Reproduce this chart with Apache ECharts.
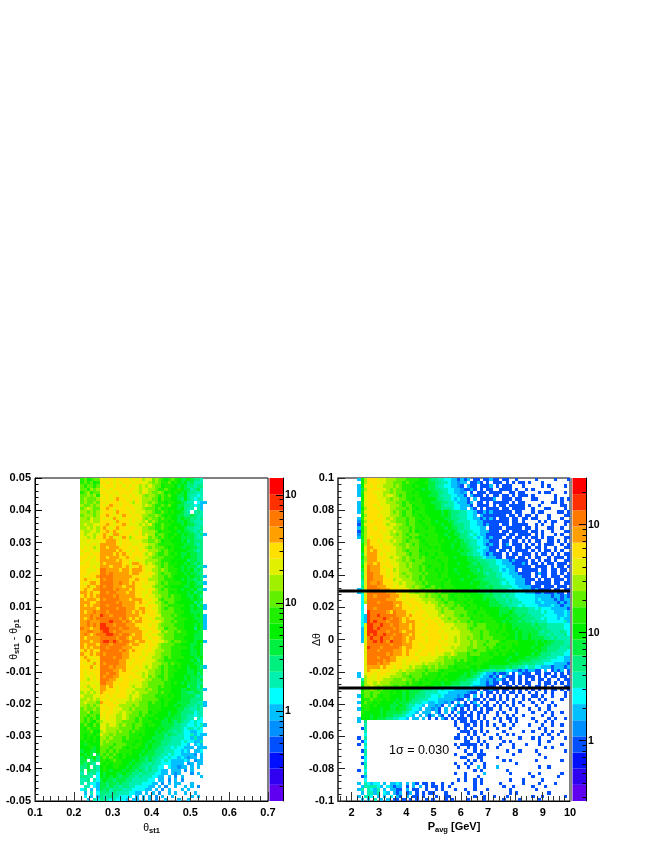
<!DOCTYPE html>
<html><head><meta charset="utf-8">
<style>html,body{margin:0;padding:0;background:#fff}#c{width:654px;height:846px}</style>
<script src="https://cdn.jsdelivr.net/npm/echarts@6/dist/echarts.min.js"></script>
</head><body><div id="c"></div>
<script>
// colour levels, bottom to top of the palette bar
const palette=['#6000f0','#3000f0','#0010ff','#0050ff','#0090ff','#00c0ff','#00ffff','#00f0b0','#00f080','#00f040','#00f000','#20f000','#60f000','#a0f000','#e0f000','#ffe000','#ffa000','#ff7800','#ff3000','#ff0000'];
const levelCodes='0123456789abcdefghij';
// left panel: one string per y bin from top; one char per x bin starting at bin 14 of 72
const leftRows=[
"bcabcc feffefff fefefdee cdcbabcb a99a9887 .",
"bcbcab ffefefef ffeffeed cdcbbcab a9a89777 .",
"cbccbc efffeffe fefedede dccabbba 9a988788 .",
"ccbdcd fefeffff effedeed dcbbcbaa ba997897 .",
"bcdbcc ffefeeff ffeedfed ccdcabab a9a88777 .",
"ccdcdb effefefe fefeedcd dcbcbcaa 99a87767 .",
"cdcccd fefefgff efefeddd ccacbbaa 98a87677 .",
"cdccdc ffefffef fedfeddc dcbbabba a9877.65 5",
"dccdcd fefgffef ffeeeded cbbcbcaa 99887675 .",
"cdedcc ffgfefff effeedcc cbcabaaa 9a877.75 .",
"ddcdcd efffegff fefeeedd cbbcbaba a987.787 .",
"cdddcd ffgfefeg ffefeddc cdcbabaa 99889877 .",
"ddcedd fefegfef fefefdcd ccbcbbaa 9a998878 .",
"dddedd ffffegff fefeedec dcbbbaba 99a98777 .",
"deddee ffgfeffg feeedede cbbcbbaa a9a99877 .",
"ddeded fgfefgff effeeddc cbbcbaab aa988778 .",
"eddeed ffgfgfef ffeefddd dcabbbaa 9a998787 .",
"edeede fgfeggff fefefded dbccbaab a9a99878 5",
"eededf fgfgefeg fdeffeec dcbcbaba a9999877 .",
"eefeee ffgggfef feeeeddc cdcabbaa a9a89888 .",
"eeeefe gggggfef ffeefeed dcbbbbba aa999878 .",
"efefde ggfgggff feffeedc dcccbaba a99a9988 .",
"feefee gggggfgf efefefed ddcbcbba aaa99878 .",
"effeff ggggfgfg fefffede dcbbcbab a99a9988 .",
"ffefef ggfgggff gffefeed ccccbbba a9aa9988 .",
"fefeef gggggfgf fefeeedd ddcbbbaa aaa89988 .",
"effeee gfgggggf feggfede dccbcbab aa9a9898 .",
"fffefe gggfgggf geffgfee edcbcbba a9a99978 5",
"ffeeef hhggggfg gfgggfee ddcdcbbb a9a9a898 .",
"ffefff hhghgggg gfggffef edcbccbb aa9a9988 .",
"fefffg hhhhgggg ggfffefe ddccbcba aaa9a998 5",
"fgffef hghhgggg gffgfffd ddccbbba a9a99898 .",
"fefggf hhhhgghg gfgffefe edcbcbbb baa9a988 5",
"ffgefg hghhgggf gggffeee dcccbbaa aa99a999 .",
"fgffgg hhhhghgg gfgfffef edcbcbbb a9aa9a88 5",
"ggfgff hhghhggg fggffeef ddcccbab aaa9a899 .",
"fgfgfg hhhhghgg gggffefe eddccbcb baa99a98 .",
"gfgggf hghhhhgg gfgggfef eecbcccb baaa9a99 .",
"gggffg hhhhhghg gggfgffe eddcbccb aaaaa898 .",
"gfgfgg hhghhhhg gggfffef fedccbbb bbaa9a89 5",
"gggggf hhhhhghh gggfggff eedcbccb baaa9a99 5",
"gfgghg hhghhhhh ggfgfgff fedccccb bbaa9999 .",
"ggghgg ihhghhhh ggggffef feecccbc baaaa9a9 5",
"gfghgh hhhhhhgh gfgfgffe fdddcccb bbbaa999 5",
"gghggg hhhihhhg hgfggfff efedccbc bbaaaa99 5",
"gghghg iihhghhh gggffffe fedccccb bbaaa9a9 5",
"hggfgg iiihhhgh hgggfeff feddbccc bbaaa8a9 5",
"gghhgg hiihghhg gggggffe ffecdccb cbbaaa99 .",
"ghgfgh hhiihhgh hgfggfef eeddcccb bbbaa999 .",
"gfgggg hhhhhghh gfgggffe ffedcccb bbaaa999 .",
"gggfgg hiihihgh hggfggff efeedcbc cbbaa9aa 5",
"gfgggf hhhghhhh gfggffef fedccccb baaa99a9 .",
"gfgfgg hhghhhhg ggffffef eedcccbb bbba9aa9 .",
"fgfgff hhhhhhgh gfgffeff edddccbb baaa99a9 .",
"gffgfg hghhhhhg gffffefe eddcccbb baaa99a9 .",
"fgfeff hhhhghhg gfffefee dddcbcbb bbaaa99a .",
"ffgfef hhhhhhgg ffefffee edccbbbb aaaa9a89 .",
"fefegf hghhhhgg fefffeee dddccbcb baaaa999 .",
"fffgef hhhghggg fffefede ddcbcbba baa9aa98 5",
"feffff hhhhggfg ffefeeed dccbcbbb aaa99a99 .",
"fefeff hhghhgff fffeeded dccbcbba aaa99a89 .",
"feefef hghhggff feffedec dcbbcbba aa9a9998 .",
"fedfef hhhggfef ffeefedd cccbcbaa aa9a9989 .",
"eefeee hhggffff feeeeddc ccccbbab a9a99988 .",
"efdefe ggfgfeff fedeeddc ccbcbbaa aaa89979 .",
"eeedee ggfffeff eeedddcd ccbbbbaa a99a9988 5",
"dedede gffffeff eededddc ccbcbbaa a9988998 .",
"edddee ffefefff edeedccc cbbbbaba a9999878 .",
"ddeded fefefeee ededdccc ccbabbaa a9998888 .",
"dedddc gfffefee ddddcccb cbbabaaa 99998877 5",
"ddcdcd fefffedd ddcdcccb bbbabaa9 a9988787 5",
"cdccdc ffefeeed dcdccccb bbbaaaaa 99887787 .",
"ccdbcc feffeede ddccbcca bbaaa9aa 98888677 .",
"ccbccb fefeedde dcccbcbb baaaa9a9 98877677 .",
"cbcbcb eefeedde dccbcbba abaa9a99 98877.76 .",
"cbcbac deeeeddc cccbcbbb aaa99a98 98776766 .",
"bcbacb eedeedcd ccbccbab baa99998 87766767 5",
"bacbbb eeddddcc ccbcbbaa aa9a9988 87677676 .",
"bbbcaa dedddcdc cbcbbbaa a9a99887 87665566 .",
"babbab eddcdccc cbbbabaa a9998988 77667565 5",
"bababa ddcdcccb cbbbbaaa 99998877 77665755 .",
"abaaba dcdccccb bbbabaa9 a9988877 76766557 .",
"a9baaa dcccbccc bbabba9a 99988777 7665.565 .",
"aaab9a cccbcccb abbbaa9a 99887767 66555.55 5",
"9aa99a ccbcbcbb bbaaa9a9 98887776 6565.556 .",
"a9a9.9 cbcbcbab abaa9a99 98877676 655554.5 .",
"9a99a8 bcbcbbab aaaa9989 88776766 565455.5 .",
"99.898 bbabcbba aa9a9989 87767655 5565.455 .",
"98987. bababbba a9a99887 87766655 55.45.55 .",
"889.87 abaabbaa 9a998878 7766.655 455.5.5. .",
"8.9887 aba9aaa9 a9989878 77655.55 5.4.5... .",
"7.8786 a9aaa99a 99887887 76655.54 5...4.5. .",
"8877.6 a9a9a989 98878777 6655.5.4 .5.....5 .",
"778.76 9a998999 88777776 6.55.4.5 .4...... .",
"7.7665 99899898 87777666 55.4.5.5 5...5... .",
".77.65 99898878 87766665 5.5.4..5 ..5.5.4. .",
"67.5.5 98978887 77666655 .5.4.5.. .5.5.... .",
".5.7.6 88878777 76655.5. 5.4..5.5 ..5..5.. .",
".6.5.5 87787766 66.5.5.5 .4.5..5. ....5.5. .",
"..5.76 87767666 5.55.5.5 .4..5... 5..5.... ."
];
// right panel: one string per y bin from top; one char per x bin starting at bin 6 of 72
const rightRows=[
"5ad fffeeedddc ccbbbbaaa9 8877665535 35.33.3353 3.33..3... ..3.....3. ..3",
".ad ffffeeddcc cbcbbaaab9 9887765545 5.3353.3.3 33.3.3.33. 3...3..... ...",
"5ae fefeedddcd cbbbabaaa9 9877665543 .533.3335. 3.333...3. ....3.3... .3.",
"59d ffffeedcdc cbbbbaa9a9 9887766554 3353.3.33. .3333.3..3 .3.....3.. ...",
"5be ffeeeddcdc ccbbabaaaa 9988766554 5.3.333.33 33..33.33. ...3.33... .3.",
"5ae fffeedeedc bcbbbbaaa9 9987776655 3.5333.3.3 3.33.3.333 .3......3. ...",
".ae fffeeedcdd ccbbabbaaa a988776565 53.5.33335 ..333.33.. .33.....3. 3.3",
"5be ffffeedddc cbcbbbbaaa 9998877655 535.33.3.3 3333.3.33. ....3..33. 3..",
"5be ffefeeeddd cbccabbbaa a998777665 553.3333.3 .33.33333. 3..3...... 33.",
"5ad fffefeeddc ccbcbabbaa a998887665 5.53.3.333 3.33.3333. .3...33... .3.",
"5be ffffeeedcd cbccabbbaa aaa9a98887 7665335353 33333.33.. .3.33....3 3.3",
".ad fffefeeddd cbccbbabba aaa9a98877 7665.53333 333.33.3.3 3.3...3... .33",
"5be fffffededc ccbccbbabb aaaa998887 7665535353 .333.33.33 .33...3... 3..",
"4ad fefffeeddc ccbccbabbb a9aaa99877 7766553333 3333.33.3. ...3.3.33. .33",
"3be fffffedeed dcbccbbabb aaa9aa9888 7766553533 3.33.33333 ..3.3..3.. .3.",
"5ad ffefffeedd cccbcbbbab baaa9a9988 7766655.33 33.33333.3 3.3...33.. 3..",
"3ad ffffefeded dccbcabbbb baaaa9a987 8776655533 3.33.33333 .33.3..3.. .33",
"4bd fffffeeddc dcbcccbbab bbaa9aa998 8767655333 333.33.333 3.3.3...3. 3..",
"5ad fefffefedd dccbcbabbb bbaaa9aa98 8776565353 33.33.33.3 .33.3.33.. .33",
".9d gffefeeded dcbcccbabb bbabaaa9a9 8877665533 3.33.33.3. 3.33..33.3 .3.",
".ad gfffefeedd ccdcbcbbab bbbaaa9aa9 9877665353 3.35.333.3 .3.3.333.. 3.3",
".ae ggffeffeed dcdcccbbba babaaa9aa9 9887766533 3.333.33.3 3.33.3..3. .33",
".ae gfgffefeed dcbcccabbb bbbaaaaa9a 9987665533 .33.3.3333 .3.3.33.3. 3..",
".9e gggfefeeed ddcbccbbab babbaaaaa9 9887765353 33.3.33.33 3.3.33.3.3 .33",
".ad gggfffedee dcdcccbcbb abbbbaa9aa a998876555 33.333.33. 3.33..3.33 3.3",
".9d gggffefeed dcdcbcccbb bbabbaaaaa a999888777 6655353333 .3.3.33.3. .33",
".9e ggfgfffeee ddcdcccbbb bbbabaaa9a aa98988877 6655533353 .33.3.33.3 33.",
".ae hgggfeffee ddcdccbcba bbbabaaaaa a999998877 7665553333 3.3333.3.3 3.3",
".9e hgggffefde dddcccbcbb bababaa9aa aa99898887 7656553.33 333.33.33. 33.",
".8e hhggffefee dcddcccbcb bbabbaaa9a aaa9998788 7766555333 3.3533.33. 3.3",
".9e hhgggfefee ddcdccbcbb bbabbaaaaa a9aa999888 7766655533 3.3.33.333 .33",
".8e hhgggfffde edddccbcbb bbbbabaaa9 aaa9998888 8776665553 33.3.33.33 3.3",
".7e hgghgfffee dedddccbcb bbbabbaaaa aa9aa99988 8767665553 3.33333.33 .33",
".8e hhhgggffef eeddcdccab cbbabbbaaa aaaa999898 8877766555 5333.333.3 33.",
"57e hhhhgggfff efedddcbcc cbcbbbabaa aa9aa99998 8887676655 5353333.33 .33",
"57e hhhhhhgggf feeddcddcc cbcbbbbaba aaaa999898 8887776665 5533533353 3.3",
".6e hhghhhhggg fefeeeddcd ccbccbabbb abaaaa9998 8878776666 6655555355 353",
".6e hhhhhhgggf fefffeeddd dccbcbbabb babaaa9a99 8887877666 6656555535 355",
".6d hhhghhhhgg gfefffeede ddccbccbbb abbaaaaa99 9887877766 6655655553 535",
".6. hhhhhhhhgf gffefffeee edcdcccbcb babbaaaa99 9988777676 6665555655 355",
".6. hhghhhhhgg gffffefeee eddcdcbccc abbbabaaaa a999898888 7767666555 553",
".6. ihhhhhgfhg ggffefffee eedcdddccc cbbabbbaaa a999a98888 7777676655 565",
".65 ihhihhhhhg ggfgfffefe eededddccb cbbbbabbaa a9aa999898 8777766665 565",
".65 ihhhhihghh gfgfffffef efeddcddcc ccabbbbbba aaa9a99988 8877676665 655",
".65 ihihhhghhh gfgggffeff fefedddcdc cbcbbabbbb aa9a999898 8787776666 675",
".6e iihhihhghh gggfgfffef ffefeeeddd dccbcccbbb babaa99999 9898887777 766",
".5e iihihhhhgh gggfgffeff fffeeededd dcbccccbbb babaa9a999 9989887777 766",
".5e iiihhhghhh gfgggfffef ffefeeeeed ddcccbccbb abbaaa9a99 9998788777 876",
".5e ihihhihhgh hggfgffeff fffefeeeed dddccbccbb bbabaa9a99 a998887877 786",
".5e hihhihhghh hgfggfffef fffefeeded dcdccbcccb bbbaaa9a99 a999988787 777",
".5e hhihihgihh hgfgffffef ffefeeeded ddcdcccbcc cbabbbbaaa aa9a9a9988 877",
"..e hhhhhhhghh hgggffefff fffefeeeed ddcdccbccc abbbbabaaa aa9aa99888 877",
"..e ihhhghhhhh gfggfffeff fefeeededd dccdcccbcb bbabbaaaaa a9aa998888 778",
"..e hhhghhhhgg gfgfffefff feffeeeddd dccbcccbbb abbbabaaaa aa9a998887 776",
"..e hhhhhhghgg gfgffefffe feeeddedcc cbcccbbbab babaaa9aaa a9a9888777 766",
"..e hhhghhhggf ffefffeeee eeddcdcccc cbbabbbbba aaaa9aaaa9 9998887776 655",
"..e hhhhhghggf feffefeeee edddcccbcb cbbabbbbaa aaa9aaa999 9888777666 655",
"..e hhhghggfff fefeeeeded ddcdcccbbb babbbbaaaa aaaa999988 8877766655 553",
"..e ggggfgffef feededdccd cdcccbbabb bbaabaaa99 9998988776 7766555355 535",
"..e gffefffeee dedddcccbc ccbabbbbaa aa9a998877 8776655353 5533.5.353 5.3",
"5.e ffefffeeed dcdccccbcb bbabbaaaaa 9a99876553 5335.3.533 3.33.33.3. 3.3",
"5.d feefeeeddd dccbcccbbb bbabaaaaa9 9a98765535 3.5333.3.3 33.3.3.33. 33.",
".7d eeefedddcc cdccbcbbab bababaaa99 9887655453 553.33.3.3 .3.33.3..3 .33",
".9d eededddccc ccbcbbabbb aaa9aa9998 8876655353 3.33.3.3.3 3..3.33.3. 3.3",
".ad dedcdcccbb cbbbbabbaa a9a9998887 7765555333 .3.33.3.3. 3.33.3.3.. .33",
".ac cdcbcbbbaa aba9999888 7767666555 55553.3353 3.33.3.3.3 .3.3.3.33. 3.3",
".bc cbccbbbaba a9a9998877 7766655555 5433.5.33. 3.3.33.3.. 3.3..3.3.. .3.",
"5ac cbcbabbaaa a9a9988877 6676555545 33.5.3.3.3 .3.3..3.3. .33.3..3.. .3.",
".ab bcbbbabaa9 a9a9887776 6655555433 .5.33.3.33 .3.3.3..3. 3..3.3.... 3..",
"5ac bbabaaaa9a 9998877665 5655453.5. 3.35.3.3.. 3.3..3.3.. .3..3..3.. ...",
".bb babaaaa999 a9877665.5 5453.5.535 33.35.33.3 .3.3.3..3. ..3...3.3. ...",
"5ab baaa9aa99a 9987665.55 453.5.53.3 .3.3.3.33. .3..3.3... 3..3..3... ...",
".ba aaaa9a9999 987665.555 .53.5.3.53 3.3.33.3.. 3.3...3... .3...3.3.. 3..",
".aa a9aa9a9988 87665.5.53 5.53.3.3.3 .33.3.3... 3..3.3..3. ....3..3.. ...",
"5aa a9a9998877 665.55.5.3 .3.53.3.33 3.3.3.3..3 .3.33.3... .3....3.3. .3.",
"5.8 .......... .......... .......3.3 3.33.3.3.. .3..3.3... ..3..3.3.. ...",
"..7 .......... .......... .......3.. 33.3.3.3.3 ..3..3.... 3...3..3.. 3..",
".37 .......... .......... ........3. 3.3..3.... 3...3..... ...3.3.... ...",
"..7 .......... .......... .........3 33.3.3.3.. ..3.....3. .3...3.3.. 3..",
"..6 .......... .......... ........3. .3.3..3... 3..3.3.... ....3.3..3 ...",
"3.7 .......... .......... .......33. 3.3.3...3. .3.....3.. .3.3...3.. .3.",
".36 .......... .......... .......... 33..3.3... ..3.3..... ...3..3... ...",
"3.7 .......... .......... .......3.3 3333.3.3.. .3...3...3 ...3...... 3..",
"..6 .......... .......... ........3. .3.3...3.. 3....3.... .....3.3.. ...",
".37 .......... .......... .......... 3..3.3.... ...3...3.. ..3....... .3.",
"..7 .......... .......... .......3.. .33.333... .....3.... ...3...... ...",
".36 .......... .......... .........3 3...33.... 3......... .....3.... ...",
"..6 .......... .......... .......... .3.3.3.... ..3.3..... ..3....... 3..",
".37 .......... .......... .......3.. 3.3...3... ......3... .......... ...",
"..7 .......... .......... ........3. .3..5.3... 5......... ...3..3... ...",
"3.6 .......... .......... .......... ...3.3.... ...3...... .......... ...",
"..7 .......... .......... .......3.. 3.....5... ....3..... 3..3...... 3..",
".35 .......... .......... .......... 3...3..... .......... .3.......3 ...",
"..6 .......... .......... ........3. 3..3.3.... ....3...3. ....3..... ...",
"5.7 6566.5.556 5.5.53.33. 3..3..3... ...3.3.... .3......3. ...3....3. ...",
".57 77765.6535 5.3.5.5.3. 33.3.3.... ...3...... ..3..3.... .3...3.... ...",
"57. 7657.5.553 3.5.33..3. .3.3...3.. 3..3...3.. ....3..... ..3....... ...",
".5. 7757.65.53 5.35.3.3.3 3...3..... .3...3.... ....3.3... ......3... ...",
"5.7 76.5.5.6.5 3.5.33.3.. .3..33.... ...3..3..3 ...3...... .3..3..... .3.",
".5. 5.7.5.5.33 .3.3.3..3. 3...3.3... .3....3... ..3....3.. ...3...... ..."
];
// axis ranges
const leftXRange=[0.1,0.7], leftYRange=[-0.05,0.05];
const rightXRange=[1.5,10], rightYRange=[-0.1,0.1];
const xBinCount=72, yBinCount=100, leftFirstBin=14, rightFirstBin=6;
// colour bar scales
const leftBarRange=[0.147,143], rightBarRange=[0.276,271];
const leftBarTicks=[1,10,100], rightBarTicks=[1,10,100];
const leftBarLabels=['1','10','10'], rightBarLabels=['1','10','10'];
const leftBarMinor=[0.2,0.3,0.4,0.5,0.6,0.7,0.8,0.9,2,3,4,5,6,7,8,9,20,30,40,50,60,70,80,90];
const rightBarMinor=[0.3,0.4,0.5,0.6,0.7,0.8,0.9,2,3,4,5,6,7,8,9,20,30,40,50,60,70,80,90,200];
// right x axis ticks
const rightXMajor=[2,3,4,5,6,7,8,9,10];
const rightXMinor=[1.6,1.8,2.2,2.4,2.6,2.8,3.2,3.4,3.6,3.8,4.2,4.4,4.6,4.8,5.2,5.4,5.6,5.8,6.2,6.4,6.6,6.8,7.2,7.4,7.6,7.8,8.2,8.4,8.6,8.8,9.2,9.4,9.6,9.8];
// selection band
const sigmaCut=0.03;
const sigmaLabel='1σ = 0.030';

const font='"Liberation Sans",Arial,sans-serif';
function cells(rows,firstBin,xr,yr){
  const out=[], bx=(xr[1]-xr[0])/xBinCount, by=(yr[1]-yr[0])/yBinCount;
  rows.forEach((row,r)=>{
    row.replace(/ /g,'').split('').forEach((ch,c)=>{
      const lvl=levelCodes.indexOf(ch);
      if(lvl>=0) out.push([xr[0]+(firstBin+c)*bx, yr[1]-r*by, lvl]);
    });
  });
  return out;
}
function heat(name,rows,firstBin,xr,yr,xi,yi){
  const bx=(xr[1]-xr[0])/xBinCount, by=(yr[1]-yr[0])/yBinCount;
  return {type:'custom',name,coordinateSystem:'cartesian2d',xAxisIndex:xi,yAxisIndex:yi,animation:false,silent:true,progressive:0,clip:true,
    data:cells(rows,firstBin,xr,yr),encode:{x:0,y:1},
    renderItem(p,api){
      const a=api.coord([api.value(0),api.value(1)]), b=api.coord([api.value(0)+bx,api.value(1)-by]);
      const x=Math.round(a[0]),y=Math.round(a[1]);
      return {type:'rect',shape:{x,y,width:Math.round(b[0])-x,height:Math.round(b[1])-y},style:{fill:palette[api.value(2)]}};
    }};
}
function bar(xi,yi){
  return {type:'custom',coordinateSystem:'cartesian2d',xAxisIndex:xi,yAxisIndex:yi,animation:false,silent:true,
    data:palette.map((c,i)=>[0,i]),encode:{x:0,y:1},
    renderItem(p,api){
      const i=api.value(1), a=api.coord([0,i+1]), b=api.coord([1,i]);
      return {type:'rect',shape:{x:a[0],y:a[1],width:b[0]-a[0],height:b[1]-a[1]},style:{fill:palette[i]}};
    }};
}
const lineK={onZero:false,lineStyle:{color:'#000',width:1}};
const lineG={onZero:false,lineStyle:{color:'#444',width:1.5}};
const lab={color:'#000',fontFamily:font,fontSize:11,fontWeight:'bold'};
const richT={t:{fontFamily:font,fontSize:10.5,color:'#000'},s:{fontFamily:font,fontSize:7.5,fontWeight:'bold',color:'#000',padding:[6,0,0,0]},b:{fontFamily:font,fontSize:11,fontWeight:'bold',color:'#000'}};
const hiddenX=gi=>({gridIndex:gi,type:'value',min:0,max:1,show:false});
const barMajor=(gi,range,ticks,labels)=>({gridIndex:gi,z:10,type:'log',position:'right',min:range[0],max:range[1],splitLine:{show:false},
  axisLine:{show:true,lineStyle:{color:'#000',width:1}},
  axisTick:{show:true,inside:true,length:7,customValues:ticks,lineStyle:{color:'#000'}},
  axisLabel:{show:true,inside:false,margin:2,customValues:ticks,color:'#000',fontFamily:font,fontSize:10.5,fontWeight:'bold',formatter:v=>labels[ticks.indexOf(v)]},minorTick:{show:false}});
const barMinor=(gi,range,vals)=>({gridIndex:gi,z:10,type:'log',position:'right',min:range[0],max:range[1],splitLine:{show:false},
  axisLine:{show:false},axisTick:{show:true,inside:true,length:3.5,customValues:vals,lineStyle:{color:'#000'}},axisLabel:{show:false},minorTick:{show:false}});

const option={
  animation:false,backgroundColor:'#fff',
  grid:[
    {left:35,top:478,width:233,height:323,show:true,borderColor:'#000',borderWidth:1,backgroundColor:'transparent'},
    {left:338,top:478,width:232,height:323,show:true,borderColor:'#000',borderWidth:1,backgroundColor:'transparent'},
    {left:269.5,top:478,width:13.5,height:323},
    {left:572.5,top:478,width:13.5,height:323}
  ],
  xAxis:[
    {gridIndex:0,z:10,type:'value',min:leftXRange[0],max:leftXRange[1],interval:0.1,splitLine:{show:false},
      axisLine:lineK,axisTick:{inside:true,length:9,lineStyle:{color:'#333'}},minorTick:{show:true,splitNumber:5,length:5,lineStyle:{color:'#333'}},
      axisLabel:{...lab,margin:6,showMaxLabel:true,showMinLabel:true},
      name:'{t|θ}{s|st1}',nameLocation:'middle',nameGap:20,nameTextStyle:{rich:richT}},
    {gridIndex:1,z:10,type:'value',min:rightXRange[0],max:rightXRange[1],splitLine:{show:false},
      axisLine:lineK,axisTick:{inside:true,length:9,customValues:rightXMajor,lineStyle:{color:'#333'}},
      axisLabel:{...lab,margin:6,customValues:rightXMajor},
      name:'{b|P}{s|avg}{b| [GeV]}',nameLocation:'middle',nameGap:19,nameTextStyle:{rich:richT}},
    {gridIndex:1,z:10,type:'value',min:rightXRange[0],max:rightXRange[1],splitLine:{show:false},position:'bottom',
      axisLine:{show:false,onZero:false},axisTick:{inside:true,length:5,customValues:rightXMinor,lineStyle:{color:'#333'}},axisLabel:{show:false}},
    hiddenX(2),hiddenX(3)
  ],
  yAxis:[
    {gridIndex:0,z:10,type:'value',min:leftYRange[0],max:leftYRange[1],interval:0.01,splitLine:{show:false},
      axisLine:lineK,axisTick:{inside:true,length:7,lineStyle:{color:'#000'}},minorTick:{show:true,splitNumber:5,length:3.5,lineStyle:{color:'#000'}},
      axisLabel:{...lab,margin:4},
      name:'{t|θ}{s|st1}{t| - θ}{s|p1}',nameLocation:'middle',nameRotate:90,nameGap:14,nameMoveOverlap:false,nameTextStyle:{rich:richT}},
    {gridIndex:1,z:10,type:'value',min:rightYRange[0],max:rightYRange[1],interval:0.02,splitLine:{show:false},
      axisLine:lineG,axisTick:{inside:true,length:7,lineStyle:{color:'#222'}},minorTick:{show:true,splitNumber:5,length:3.5,lineStyle:{color:'#222'}},
      axisLabel:{...lab,margin:4},
      name:'{t|Δθ}',nameLocation:'middle',nameRotate:90,nameGap:15,nameMoveOverlap:false,nameTextStyle:{rich:richT}},
    {gridIndex:2,type:'value',min:0,max:20,show:false},
    barMajor(2,leftBarRange,leftBarTicks,leftBarLabels),
    barMinor(2,leftBarRange,leftBarMinor),
    {gridIndex:3,type:'value',min:0,max:20,show:false},
    barMajor(3,rightBarRange,rightBarTicks,rightBarLabels),
    barMinor(3,rightBarRange,rightBarMinor)
  ],
  series:[
    heat('left',leftRows,leftFirstBin,leftXRange,leftYRange,0,0),
    heat('right',rightRows,rightFirstBin,rightXRange,rightYRange,1,1),
    bar(3,2),
    bar(4,5),
    {type:'line',xAxisIndex:1,yAxisIndex:1,symbol:'none',silent:true,animation:false,z:5,lineStyle:{color:'#000',width:3},data:[[rightXRange[0],sigmaCut],[rightXRange[1],sigmaCut]]},
    {type:'line',xAxisIndex:1,yAxisIndex:1,symbol:'none',silent:true,animation:false,z:5,lineStyle:{color:'#000',width:3},data:[[rightXRange[0],-sigmaCut],[rightXRange[1],-sigmaCut]]}
  ],
  graphic:[
    {type:'text',left:389,top:744,z:20,style:{text:sigmaLabel,fontFamily:font,fontSize:12.5,fill:'#000'}},
    {type:'rect',left:570,top:478,z:20,shape:{width:2,height:323},style:{fill:'#888'}}
  ]
};
const chart=echarts.init(document.getElementById('c'),null,{renderer:'canvas',width:654,height:846});
chart.setOption(option);
</script></body></html>
